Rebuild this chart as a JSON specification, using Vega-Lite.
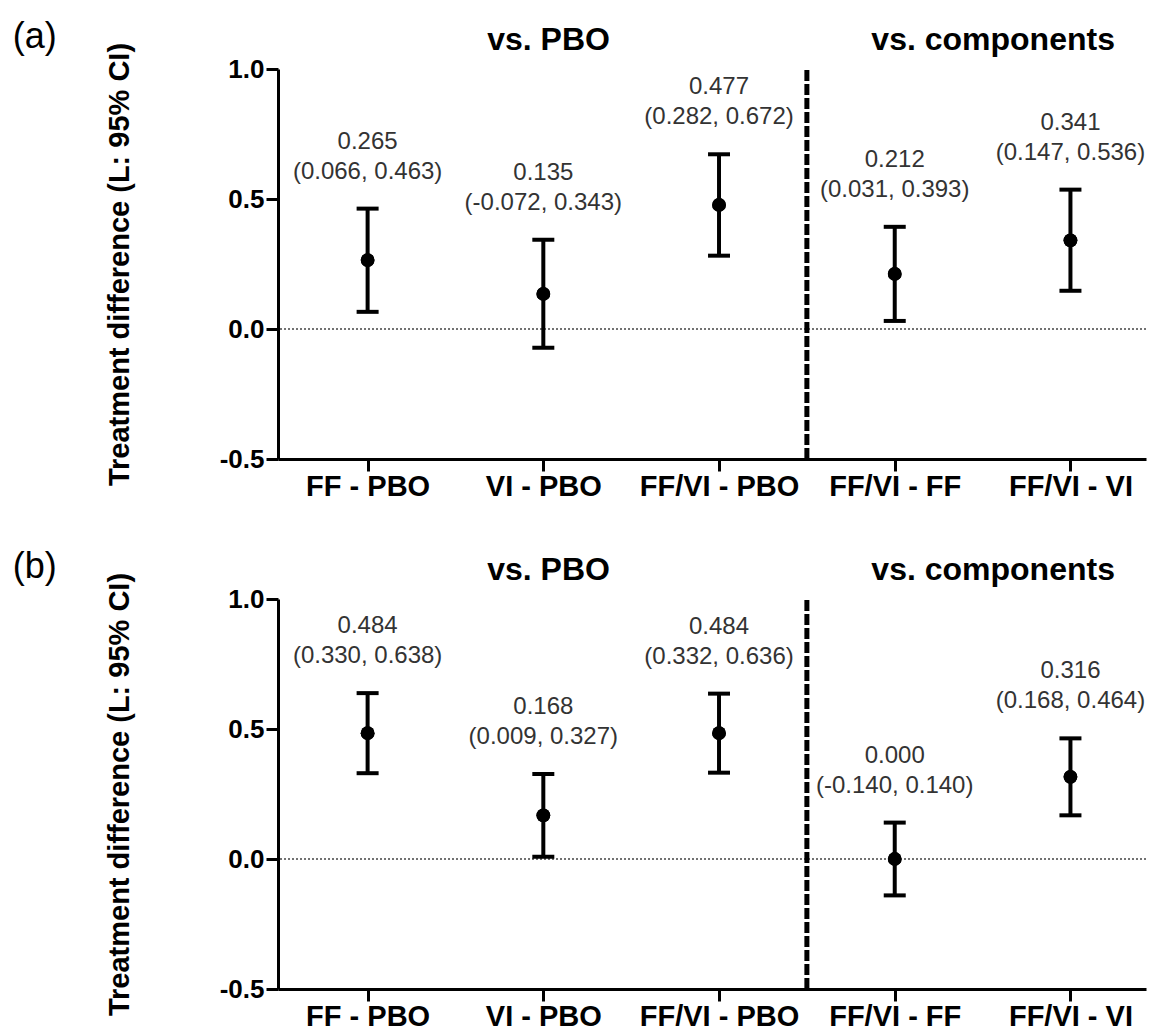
{
  "$schema": "https://vega.github.io/schema/vega-lite/v6.json",
  "padding": {"left": 12, "top": 18, "right": 5, "bottom": 5},
  "bounds": "flush",
  "spacing": 140,
  "datasets": {
    "a": [
      {"comp": "FF - PBO", "pos": 1, "est": 0.265, "lo": 0.066, "hi": 0.463, "l1": "0.265", "l2": "(0.066, 0.463)"},
      {"comp": "VI - PBO", "pos": 2, "est": 0.135, "lo": -0.072, "hi": 0.343, "l1": "0.135", "l2": "(-0.072, 0.343)"},
      {"comp": "FF/VI - PBO", "pos": 3, "est": 0.477, "lo": 0.282, "hi": 0.672, "l1": "0.477", "l2": "(0.282, 0.672)"},
      {"comp": "FF/VI - FF", "pos": 4, "est": 0.212, "lo": 0.031, "hi": 0.393, "l1": "0.212", "l2": "(0.031, 0.393)"},
      {"comp": "FF/VI - VI", "pos": 5, "est": 0.341, "lo": 0.147, "hi": 0.536, "l1": "0.341", "l2": "(0.147, 0.536)"}
    ],
    "b": [
      {"comp": "FF - PBO", "pos": 1, "est": 0.484, "lo": 0.330, "hi": 0.638, "l1": "0.484", "l2": "(0.330, 0.638)"},
      {"comp": "VI - PBO", "pos": 2, "est": 0.168, "lo": 0.009, "hi": 0.327, "l1": "0.168", "l2": "(0.009, 0.327)"},
      {"comp": "FF/VI - PBO", "pos": 3, "est": 0.484, "lo": 0.332, "hi": 0.636, "l1": "0.484", "l2": "(0.332, 0.636)"},
      {"comp": "FF/VI - FF", "pos": 4, "est": 0.000, "lo": -0.140, "hi": 0.140, "l1": "0.000", "l2": "(-0.140, 0.140)"},
      {"comp": "FF/VI - VI", "pos": 5, "est": 0.316, "lo": 0.168, "hi": 0.464, "l1": "0.316", "l2": "(0.168, 0.464)"}
    ]
  },
  "vconcat": [
    {
      "width": 868, "height": 390,
      "data": {"name": "a"},
      "layer": [
        {"mark": {"type": "point", "filled": true, "shape": "circle", "size": 190, "color": "black", "opacity": 1},
         "encoding": {
           "x": {"field": "pos", "type": "quantitative", "scale": {"domain": [0.49, 5.43], "nice": false, "zero": false},
                 "axis": {"values": [1, 2, 3, 4, 5], "title": null, "labelExpr": "['', 'FF - PBO', 'VI - PBO', 'FF/VI - PBO', 'FF/VI - FF', 'FF/VI - VI'][datum.value]"}},
           "y": {"field": "est", "type": "quantitative", "scale": {"domain": [-0.5, 1.0], "nice": false, "zero": false},
                 "axis": {"values": [-0.5, 0, 0.5, 1], "title": "Treatment difference (L: 95% CI)", "labelExpr": "replace(format(datum.value, '.1f'), '−', '-')"}}}},
        {"mark": {"type": "rule", "color": "#444", "strokeWidth": 1.5, "strokeDash": [2, 2]},
         "data": {"values": [{}]},
         "encoding": {"y": {"datum": 0, "type": "quantitative"}}},
        {"mark": {"type": "rule", "color": "black", "strokeWidth": 5, "strokeDash": [11, 3]},
         "data": {"values": [{}]},
         "encoding": {
           "x": {"datum": 3.5, "type": "quantitative"},
           "y": {"datum": -0.5, "type": "quantitative"},
           "y2": {"datum": 1.0}}},
        {"mark": {"type": "rule", "color": "black", "strokeWidth": 4},
         "encoding": {
           "x": {"field": "pos", "type": "quantitative"},
           "y": {"field": "lo", "type": "quantitative"},
           "y2": {"field": "hi"}}},
        {"mark": {"type": "tick", "color": "black", "orient": "horizontal", "size": 22, "thickness": 4, "opacity": 1},
         "encoding": {
           "x": {"field": "pos", "type": "quantitative"},
           "y": {"field": "lo", "type": "quantitative"}}},
        {"mark": {"type": "tick", "color": "black", "orient": "horizontal", "size": 22, "thickness": 4, "opacity": 1},
         "encoding": {
           "x": {"field": "pos", "type": "quantitative"},
           "y": {"field": "hi", "type": "quantitative"}}},
        {"mark": {"type": "point", "filled": true, "shape": "circle", "size": 190, "color": "black", "opacity": 1},
         "encoding": {
           "x": {"field": "pos", "type": "quantitative"},
           "y": {"field": "est", "type": "quantitative"}}},
        {"mark": {"type": "text", "font": "Liberation Sans", "fontSize": 24, "color": "#333", "baseline": "alphabetic", "align": "center", "dy": -30},
         "encoding": {
           "x": {"field": "pos", "type": "quantitative"},
           "y": {"field": "hi", "type": "quantitative"},
           "text": {"field": "l2"}}},
        {"mark": {"type": "text", "font": "Liberation Sans", "fontSize": 24, "color": "#333", "baseline": "alphabetic", "align": "center", "dy": -60},
         "encoding": {
           "x": {"field": "pos", "type": "quantitative"},
           "y": {"field": "hi", "type": "quantitative"},
           "text": {"field": "l1"}}},
        {"mark": {"type": "text", "font": "Liberation Sans", "fontSize": 32, "fontWeight": "bold", "color": "black", "baseline": "alphabetic", "align": "center"},
         "data": {"values": [{"t": "vs. PBO", "hx": 2.03}, {"t": "vs. components", "hx": 4.56}]},
         "encoding": {
           "x": {"field": "hx", "type": "quantitative"},
           "y": {"datum": 1.073, "type": "quantitative"},
           "text": {"field": "t"}}},
        {"mark": {"type": "text", "font": "Liberation Sans", "fontSize": 36, "color": "black", "baseline": "top", "align": "left"},
         "data": {"values": [{}]},
         "encoding": {
           "x": {"datum": -1.02, "type": "quantitative"},
           "y": {"datum": 1.19, "type": "quantitative"},
           "text": {"value": "(a)"}}}
      ]
    },
    {
      "width": 868, "height": 390,
      "data": {"name": "b"},
      "layer": [
        {"mark": {"type": "point", "filled": true, "shape": "circle", "size": 190, "color": "black", "opacity": 1},
         "encoding": {
           "x": {"field": "pos", "type": "quantitative", "scale": {"domain": [0.49, 5.43], "nice": false, "zero": false},
                 "axis": {"values": [1, 2, 3, 4, 5], "title": null, "labelExpr": "['', 'FF - PBO', 'VI - PBO', 'FF/VI - PBO', 'FF/VI - FF', 'FF/VI - VI'][datum.value]"}},
           "y": {"field": "est", "type": "quantitative", "scale": {"domain": [-0.5, 1.0], "nice": false, "zero": false},
                 "axis": {"values": [-0.5, 0, 0.5, 1], "title": "Treatment difference (L: 95% CI)", "labelExpr": "replace(format(datum.value, '.1f'), '−', '-')"}}}},
        {"mark": {"type": "rule", "color": "#444", "strokeWidth": 1.5, "strokeDash": [2, 2]},
         "data": {"values": [{}]},
         "encoding": {"y": {"datum": 0, "type": "quantitative"}}},
        {"mark": {"type": "rule", "color": "black", "strokeWidth": 5, "strokeDash": [11, 3]},
         "data": {"values": [{}]},
         "encoding": {
           "x": {"datum": 3.5, "type": "quantitative"},
           "y": {"datum": -0.5, "type": "quantitative"},
           "y2": {"datum": 1.0}}},
        {"mark": {"type": "rule", "color": "black", "strokeWidth": 4},
         "encoding": {
           "x": {"field": "pos", "type": "quantitative"},
           "y": {"field": "lo", "type": "quantitative"},
           "y2": {"field": "hi"}}},
        {"mark": {"type": "tick", "color": "black", "orient": "horizontal", "size": 22, "thickness": 4, "opacity": 1},
         "encoding": {
           "x": {"field": "pos", "type": "quantitative"},
           "y": {"field": "lo", "type": "quantitative"}}},
        {"mark": {"type": "tick", "color": "black", "orient": "horizontal", "size": 22, "thickness": 4, "opacity": 1},
         "encoding": {
           "x": {"field": "pos", "type": "quantitative"},
           "y": {"field": "hi", "type": "quantitative"}}},
        {"mark": {"type": "point", "filled": true, "shape": "circle", "size": 190, "color": "black", "opacity": 1},
         "encoding": {
           "x": {"field": "pos", "type": "quantitative"},
           "y": {"field": "est", "type": "quantitative"}}},
        {"mark": {"type": "text", "font": "Liberation Sans", "fontSize": 24, "color": "#333", "baseline": "alphabetic", "align": "center", "dy": -30},
         "encoding": {
           "x": {"field": "pos", "type": "quantitative"},
           "y": {"field": "hi", "type": "quantitative"},
           "text": {"field": "l2"}}},
        {"mark": {"type": "text", "font": "Liberation Sans", "fontSize": 24, "color": "#333", "baseline": "alphabetic", "align": "center", "dy": -60},
         "encoding": {
           "x": {"field": "pos", "type": "quantitative"},
           "y": {"field": "hi", "type": "quantitative"},
           "text": {"field": "l1"}}},
        {"mark": {"type": "text", "font": "Liberation Sans", "fontSize": 32, "fontWeight": "bold", "color": "black", "baseline": "alphabetic", "align": "center"},
         "data": {"values": [{"t": "vs. PBO", "hx": 2.03}, {"t": "vs. components", "hx": 4.56}]},
         "encoding": {
           "x": {"field": "hx", "type": "quantitative"},
           "y": {"datum": 1.073, "type": "quantitative"},
           "text": {"field": "t"}}},
        {"mark": {"type": "text", "font": "Liberation Sans", "fontSize": 36, "color": "black", "baseline": "top", "align": "left"},
         "data": {"values": [{}]},
         "encoding": {
           "x": {"datum": -1.02, "type": "quantitative"},
           "y": {"datum": 1.19, "type": "quantitative"},
           "text": {"value": "(b)"}}}
      ]
    }
  ],
  "config": {
    "view": {"stroke": null},
    "axis": {
      "grid": false,
      "domainColor": "black", "domainWidth": 3,
      "tickColor": "black", "tickWidth": 3, "tickSize": 12,
      "labelFont": "Liberation Sans", "labelFontWeight": "bold", "labelColor": "black",
      "titleFont": "Liberation Sans", "titleFontWeight": "bold", "titleColor": "black",
      "labelOverlap": false, "labelFlush": false
    },
    "axisX": {"labelFontSize": 29, "labelPadding": 1},
    "axisY": {"labelFontSize": 26, "labelPadding": 2, "titleFontSize": 29, "titlePadding": 85}
  }
}
